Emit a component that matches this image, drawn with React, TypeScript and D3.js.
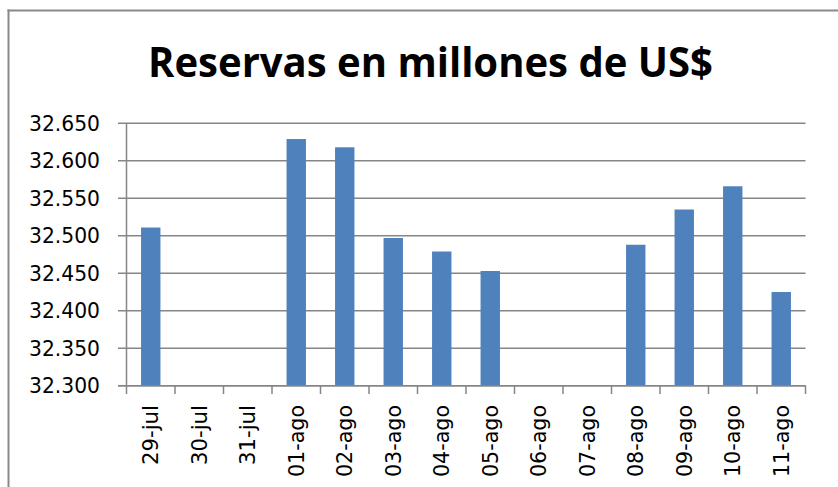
import React from "react";
import * as d3 from "d3";

const categories = ["29-jul","30-jul","31-jul","01-ago","02-ago","03-ago","04-ago","05-ago","06-ago","07-ago","08-ago","09-ago","10-ago","11-ago"];
const values: (number | null)[] = [32511, null, null, 32629, 32618, 32497, 32479, 32453, null, null, 32488, 32535, 32566, 32425];
const yTicks = [32300, 32350, 32400, 32450, 32500, 32550, 32600, 32650];
const title = "Reservas en millones de US$";

const W = 838, H = 487;
const left = 126.5, right = 805.5, top = 123.3, bottom = 385.7;
const fmt = (v: number) => d3.format(",")(v).replace(/,/g, ".");

export default function App() {
  const x = d3.scaleBand<string>().domain(categories).range([left, right]).paddingInner(0.6).paddingOuter(0.3);
  const xb = d3.scaleBand<string>().domain(categories).range([left, right]);
  const y = d3.scaleLinear().domain([32300, 32650]).range([bottom, top]);
  const font = "DejaVu Sans, Verdana, sans-serif";
  return (
    <svg width={W} height={H} style={{ position: "absolute", left: 0, top: 0, display: "block" }}>
      <rect x={0} y={0} width={W} height={H} fill="#fff" />
      <line x1={8.5} x2={8.5} y1={9.5} y2={H} stroke="#898989" strokeWidth={2} />
      <line x1={7.5} x2={W} y1={10.5} y2={10.5} stroke="#898989" strokeWidth={2} />
      <text x={430.5} y={77} textAnchor="middle" fontFamily="Open Sans, sans-serif" fontWeight={700} fontSize={41} textLength={565} lengthAdjust="spacingAndGlyphs" fill="#000">{title}</text>
      {yTicks.map((t) => (
        <g key={t}>
          <line x1={118} x2={right} y1={y(t)} y2={y(t)} stroke="#868686" strokeWidth={1.5} />
          <text x={100} y={y(t)} dy="0.36em" textAnchor="end" fontFamily={font} fontSize={20.5} textLength={71} lengthAdjust="spacingAndGlyphs" fill="#000">{fmt(t)}</text>
        </g>
      ))}
      <line x1={left} x2={left} y1={top} y2={bottom} stroke="#868686" strokeWidth={1.5} />
      {categories.map((c, i) => values[i] == null ? null : (
        <rect key={c} x={x(c)!} y={y(values[i] as number)} width={x.bandwidth()} height={bottom - y(values[i] as number)} fill="#4F81BD" />
      ))}
      <line x1={118} x2={right} y1={bottom} y2={bottom} stroke="#868686" strokeWidth={1.5} />
      {[...categories.map((c) => xb(c)!), right].map((px, i) => (
        <line key={i} x1={px} x2={px} y1={bottom} y2={394} stroke="#868686" strokeWidth={1.5} />
      ))}
      {categories.map((c) => {
        const cx = xb(c)! + xb.bandwidth() / 2;
        const len = c.endsWith("jul") ? 60 : 72;
        return (
          <text key={c} transform={`translate(${cx},405) rotate(-90)`} dy="0.36em" textAnchor="end" fontFamily={font} fontSize={20.5} textLength={len} lengthAdjust="spacingAndGlyphs" fill="#000">{c}</text>
        );
      })}
    </svg>
  );
}
